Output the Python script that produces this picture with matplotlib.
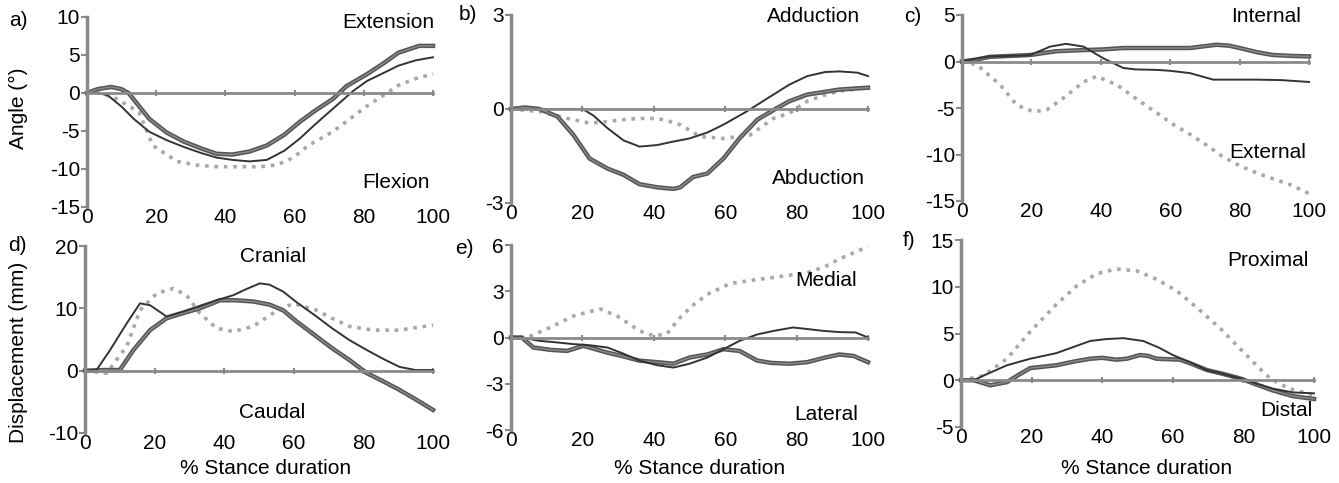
import matplotlib
matplotlib.use("Agg")
import matplotlib.pyplot as plt

plt.rcParams['font.family'] = ['Liberation Sans', 'DejaVu Sans']
plt.rcParams['axes.unicode_minus'] = False

W, H = 1339, 483

# ---- data (x = % stance, y = value) ----
# a) angle, flexion/extension
a_thick_x = [0, 3, 7, 10, 12, 18, 23, 28, 33, 37.5, 42, 47, 52, 57, 61.5, 66, 71, 75, 81, 86, 90, 96, 100]
a_thick_y = [0, 0.5, 0.8, 0.5, 0, -3.4, -5.2, -6.4, -7.3, -8.0, -8.1, -7.7, -6.9, -5.5, -3.8, -2.3, -0.8, 0.9, 2.5, 4.0, 5.3, 6.2, 6.2]
a_thin_x = [0, 3, 6, 10, 13.5, 18, 23, 28, 33, 37.5, 42, 47, 52, 57, 61.5, 66, 71, 77, 81, 86, 90, 95, 100]
a_thin_y = [0, 0, -0.3, -1.8, -3.4, -5.1, -6.2, -7.1, -7.9, -8.5, -8.8, -9.0, -8.8, -7.6, -6.0, -4.1, -2.1, 0.3, 1.6, 2.7, 3.6, 4.3, 4.7]
a_dot_x = [0, 4, 8.7, 15, 19, 26, 32, 37.5, 44, 50, 54, 57.7, 61, 64, 71, 76, 81, 86, 90, 95, 100]
a_dot_y = [0, 0, -0.8, -2.5, -6.9, -9.0, -9.5, -9.7, -9.7, -9.7, -9.5, -9.0, -8.0, -6.9, -5.1, -3.4, -1.7, -0.2, 1.0, 1.9, 2.5]

# b) angle, adduction/abduction
b_thick_x = [0, 4, 8, 13, 17.5, 22, 27, 31.5, 36, 41, 45.5, 47.4, 51, 55, 59.5, 64, 69, 74.5, 78, 83, 92, 100]
b_thick_y = [0, 0.05, 0, -0.24, -0.83, -1.58, -1.9, -2.1, -2.4, -2.5, -2.55, -2.5, -2.17, -2.06, -1.58, -0.94, -0.34, 0.03, 0.25, 0.46, 0.62, 0.68]
b_thin_x = [0, 10, 20, 23, 27, 31.5, 36, 41, 45, 50, 55, 59.5, 66, 73.5, 78, 83, 88, 92, 97, 100]
b_thin_y = [0, 0, 0, -0.2, -0.61, -1.0, -1.2, -1.15, -1.05, -0.94, -0.75, -0.5, -0.08, 0.46, 0.78, 1.05, 1.18, 1.2, 1.16, 1.05]
b_dot_x = [0, 8, 15.7, 22, 27, 31.5, 36, 41, 44, 47.4, 53, 59.5, 67, 73.5, 78, 83, 88, 92, 100]
b_dot_y = [0, -0.08, -0.3, -0.45, -0.4, -0.34, -0.3, -0.3, -0.38, -0.5, -0.88, -0.94, -0.83, -0.3, -0.13, 0.25, 0.45, 0.57, 0.68]

# c) angle, internal/external rotation
c_thick_x = [0, 4, 8, 14, 19.7, 27, 33, 40.7, 46.5, 55, 65.7, 73.3, 77, 80, 85, 89.6, 95, 100]
c_thick_y = [0, 0.2, 0.5, 0.6, 0.7, 1.1, 1.2, 1.3, 1.45, 1.45, 1.45, 1.8, 1.7, 1.45, 1.0, 0.7, 0.6, 0.55]
c_thin_x = [0, 4, 8, 14, 19.7, 25.4, 30, 35, 40.7, 46.5, 50, 56, 60, 65.7, 72.4, 78, 85, 92, 100]
c_thin_y = [0, 0.3, 0.55, 0.6, 0.7, 1.6, 1.9, 1.6, 0.35, -0.7, -0.85, -0.9, -1.0, -1.25, -1.95, -1.95, -1.95, -2.0, -2.2]
c_dot_x = [0, 4.3, 11, 15.8, 20.6, 24.4, 29, 35, 38.8, 44.6, 51.3, 56, 61, 66, 70.5, 75, 80, 85, 89.6, 95, 100]
c_dot_y = [0, -0.36, -2.5, -4.7, -5.4, -5.2, -4.0, -2.2, -1.6, -2.5, -4.3, -5.5, -6.8, -7.9, -9.0, -10.2, -11.2, -12.0, -12.6, -13.3, -14.2]

# d) displacement, cranial/caudal
d_thin_x = [0, 3.3, 7.2, 12, 15.8, 18.7, 23.4, 28.2, 33, 37.8, 42.6, 46, 50.2, 53, 56.9, 61, 66.5, 71, 76, 81, 86, 90.4, 95, 100]
d_thin_y = [0, 0.1, 3.3, 7.6, 10.8, 10.5, 8.7, 9.5, 10.4, 11.3, 12.1, 13.0, 14.0, 13.8, 12.7, 10.9, 8.7, 6.8, 4.9, 3.3, 1.8, 0.6, 0.1, 0.1]
d_thick_x = [0, 5, 10, 13.9, 18.7, 23.4, 28, 33, 38.8, 43, 48.3, 53, 56.9, 61, 66.5, 71, 76, 81, 86, 90.4, 95, 100]
d_thick_y = [0, 0.1, 0.1, 3.3, 6.5, 8.4, 9.2, 10.0, 11.3, 11.3, 11.1, 10.6, 9.7, 7.8, 5.5, 3.6, 1.7, -0.4, -1.8, -3.1, -4.6, -6.3]
d_dot_x = [0, 6.2, 12, 15.8, 20.6, 25.4, 29.2, 33, 37.8, 42.6, 48.3, 54, 59.8, 66.5, 71, 76, 82.8, 90.4, 95, 100]
d_dot_y = [0, -0.4, 3.9, 9.7, 12.4, 13.2, 12.1, 9.2, 6.8, 6.3, 7.1, 9.2, 10.8, 9.7, 8.4, 7.1, 6.5, 6.5, 6.9, 7.3]

# e) displacement, medial/lateral
e_dot_x = [0, 4.5, 11, 17.5, 25, 29.7, 36, 40, 43.7, 47.4, 51, 55, 61.4, 67, 73.6, 83, 88, 92, 96, 100]
e_dot_y = [0, 0, 0.65, 1.4, 1.85, 1.4, 0.43, 0.1, 0.25, 1.3, 2.1, 2.8, 3.5, 3.7, 3.9, 4.2, 4.6, 5.1, 5.5, 5.9]
e_thick_x = [0, 3, 6.3, 11, 15.7, 20.3, 27, 31, 36, 41, 45.5, 50, 55, 59.5, 64, 69, 73, 78, 83, 88, 92, 96, 100]
e_thick_y = [0, 0, -0.65, -0.8, -0.87, -0.54, -0.98, -1.2, -1.5, -1.6, -1.7, -1.3, -1.1, -0.76, -0.87, -1.5, -1.65, -1.7, -1.6, -1.3, -1.1, -1.2, -1.6]
e_thin_x = [0, 3, 8, 12, 17.5, 22, 27, 31, 36, 41, 45.5, 50, 55, 59.5, 64, 69, 73.6, 79, 83, 87.5, 92, 96.5, 100]
e_thin_y = [0, 0, -0.22, -0.3, -0.43, -0.5, -0.65, -1.0, -1.5, -1.8, -1.95, -1.7, -1.3, -0.76, -0.22, 0.2, 0.43, 0.65, 0.55, 0.43, 0.35, 0.33, 0.0]

# f) displacement, proximal/distal
f_dot_x = [0, 6.4, 13, 19.6, 27, 32.8, 38.5, 44, 49.8, 55.4, 61, 66.7, 73.3, 79, 83.7, 87.5, 93, 100]
f_dot_y = [0, 0.5, 2.3, 5.2, 8.1, 10.1, 11.4, 11.9, 11.7, 10.8, 9.6, 7.8, 5.6, 3.4, 1.6, 0.2, -0.9, -1.6]
f_thin_x = [0, 3.6, 6.4, 13, 19.6, 27, 36.6, 41, 46, 51.6, 56, 60, 65, 69.6, 74, 79, 84, 88.4, 94, 100]
f_thin_y = [0, 0, 0.5, 1.6, 2.3, 2.9, 4.2, 4.4, 4.5, 4.2, 3.5, 2.7, 1.9, 1.1, 0.7, 0.2, -0.4, -0.9, -1.3, -1.4]
f_thick_x = [0, 3.6, 8.3, 13, 16, 19.6, 27, 32, 36.6, 40, 44, 47, 50.7, 53, 55.4, 62, 65, 69.6, 74, 79, 84, 88.4, 94, 100]
f_thick_y = [0, 0, -0.54, -0.2, 0.5, 1.3, 1.6, 2.0, 2.3, 2.4, 2.2, 2.3, 2.7, 2.6, 2.3, 2.2, 1.8, 1.1, 0.7, 0.2, -0.5, -1.1, -1.7, -2.0]

panels = [
    # letter, box (left, right, top, bottom px), ylim, yticks, series
    ("a)", (87, 433, 17, 207), (-15, 10), [-15, -10, -5, 0, 5, 10],
     [(a_dot_x, a_dot_y), (a_thin_x, a_thin_y), (a_thick_x, a_thick_y)]),
    ("b)", (511, 868, 15, 203), (-3, 3), [-3, 0, 3],
     [(b_dot_x, b_dot_y), (b_thin_x, b_thin_y), (b_thick_x, b_thick_y)]),
    ("c)", (962, 1309, 15, 201), (-15, 5), [-15, -10, -5, 0, 5],
     [(c_dot_x, c_dot_y), (c_thin_x, c_thin_y), (c_thick_x, c_thick_y)]),
    ("d)", (85, 433, 246, 433), (-10, 20), [-10, 0, 10, 20],
     [(d_dot_x, d_dot_y), (d_thin_x, d_thin_y), (d_thick_x, d_thick_y)]),
    ("e)", (511, 868, 245, 430), (-6, 6), [-6, -3, 0, 3, 6],
     [(e_dot_x, e_dot_y), (e_thin_x, e_thin_y), (e_thick_x, e_thick_y)]),
    ("f)", (961, 1314, 240, 427), (-5, 15), [-5, 0, 5, 10, 15],
     [(f_dot_x, f_dot_y), (f_thin_x, f_thin_y), (f_thick_x, f_thick_y)]),
]

letter_pos = [(18, 21), (468, 15), (913, 16), (17, 246), (464, 249), (909, 241)]

# direction labels: text, centre x px, centre y px
direction_labels = [
    ("Extension", 388, 22), ("Flexion", 396, 182),
    ("Adduction", 814, 17), ("Abduction", 818, 178),
    ("Internal", 1266, 17), ("External", 1268, 152),
    ("Cranial", 273, 257), ("Caudal", 272, 412),
    ("Medial", 826, 281), ("Lateral", 826, 414),
    ("Proximal", 1268, 260), ("Distal", 1286, 411),
]

FS = 15
fig = plt.figure(figsize=(W / 100, H / 100), dpi=100)


def fx(px):
    return px / W


def fy(py):
    return 1 - py / H


for (letter, box, ylim, yticks, series), lp in zip(panels, letter_pos):
    l, r, t, b = box
    ax = fig.add_axes([fx(l), fy(b), (r - l) / W, (b - t) / H])
    ax.set_xlim(0, 100)
    ax.set_ylim(*ylim)
    ax.set_yticks(yticks)
    ax.set_xticks([0, 20, 40, 60, 80, 100])
    for s in ("top", "right"):
        ax.spines[s].set_visible(False)
    ax.spines["left"].set_color("#8a8a8a")
    ax.spines["left"].set_linewidth(2.5)
    ax.spines["bottom"].set_position(("data", 0))
    ax.spines["bottom"].set_color("#8a8a8a")
    ax.spines["bottom"].set_linewidth(2)
    ax.tick_params(axis="y", labelsize=FS, length=4, width=1.5, color="#8a8a8a", pad=1)
    ax.tick_params(axis="x", labelbottom=False, direction="inout", length=5, width=1.5, color="#8a8a8a")
    ax.patch.set_alpha(0)

    sec = ax.secondary_xaxis("bottom")
    sec.set_xticks([0, 20, 40, 60, 80, 100])
    sec.spines["bottom"].set_visible(False)
    sec.tick_params(length=0, labelsize=FS, pad=1)

    (dx, dy), (tx, ty), (kx, ky) = series
    ax.plot(dx, dy, color="#a8a8a8", lw=2.6, linestyle=(0, (1, 1.6)), solid_capstyle="round", clip_on=False)
    ax.plot(kx, ky, color="#555555", lw=3.2, clip_on=False)
    ax.plot(kx, ky, color="#8c8c8c", lw=1.0, clip_on=False)
    ax.plot(tx, ty, color="#333333", lw=1.4, clip_on=False)

    fig.text(fx(lp[0]), fy(lp[1]), letter, fontsize=FS, ha="center", va="center")

for txt, x, y in direction_labels:
    fig.text(fx(x), fy(y), txt, fontsize=FS, ha="center", va="center")

fig.text(fx(18), fy(108), "Angle (°)", fontsize=FS, rotation=90, ha="center", va="center")
fig.text(fx(19), fy(352), "Displacement (mm)", fontsize=FS, rotation=90, ha="center", va="center")
for cx in (266, 700, 1147):
    fig.text(fx(cx), fy(469), "% Stance duration", fontsize=FS, ha="center", va="center")

fig.savefig("out.png", dpi=100)
